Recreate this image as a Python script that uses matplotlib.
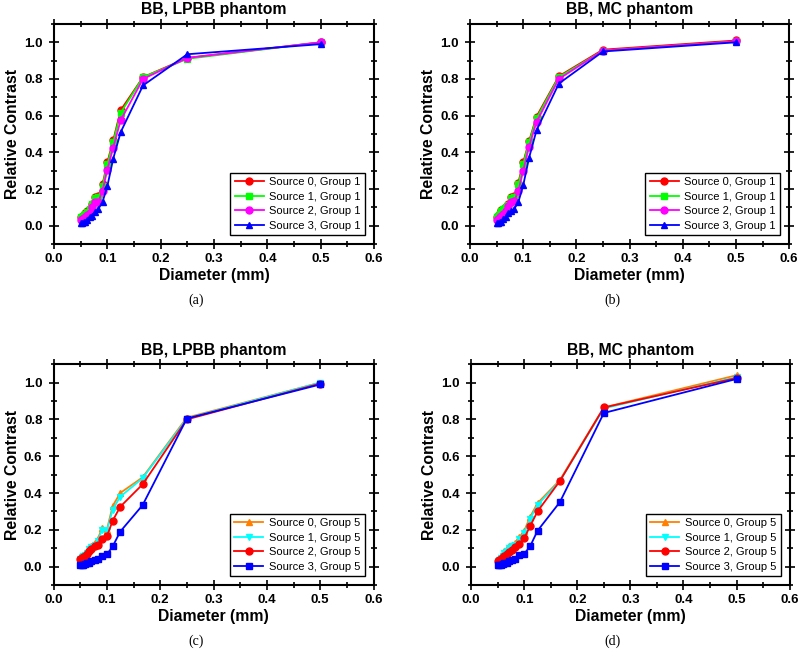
import matplotlib
matplotlib.use("Agg")
import matplotlib.pyplot as plt
from matplotlib.ticker import MultipleLocator

plt.rcParams['font.family'] = ['Liberation Sans', 'DejaVu Sans']

# bead diameters (mm)
diam = [0.5, 0.25, 0.167, 0.125, 0.111, 0.1, 0.091, 0.083, 0.077, 0.071,
        0.067, 0.0625, 0.059, 0.056, 0.053, 0.05]

# (a) BB, LPBB phantom, group 1
a_s0 = [1.0, 0.915, 0.81, 0.63, 0.465, 0.345, 0.225, 0.16, 0.155, 0.12, 0.09, 0.08, 0.07, 0.06, 0.05, 0.045]
a_s1 = [1.0, 0.91, 0.81, 0.615, 0.455, 0.335, 0.215, 0.155, 0.15, 0.12, 0.09, 0.075, 0.065, 0.06, 0.05, 0.045]
a_s2 = [1.0, 0.915, 0.80, 0.575, 0.425, 0.305, 0.19, 0.13, 0.13, 0.10, 0.07, 0.06, 0.05, 0.04, 0.035, 0.03]
a_s3 = [0.99, 0.935, 0.765, 0.51, 0.365, 0.215, 0.13, 0.09, 0.075, 0.055, 0.05, 0.03, 0.02, 0.02, 0.015, 0.015]

# (b) BB, MC phantom, group 1
b_s0 = [1.01, 0.96, 0.815, 0.595, 0.46, 0.345, 0.235, 0.16, 0.155, 0.12, 0.10, 0.09, 0.085, 0.07, 0.055, 0.05]
b_s1 = [1.005, 0.955, 0.81, 0.585, 0.455, 0.335, 0.225, 0.155, 0.15, 0.115, 0.10, 0.09, 0.08, 0.065, 0.055, 0.05]
b_s2 = [1.005, 0.955, 0.80, 0.565, 0.43, 0.30, 0.19, 0.135, 0.13, 0.105, 0.08, 0.065, 0.055, 0.045, 0.035, 0.03]
b_s3 = [1.0, 0.95, 0.775, 0.52, 0.37, 0.22, 0.13, 0.09, 0.08, 0.07, 0.05, 0.035, 0.02, 0.02, 0.015, 0.015]

# (c) BB, LPBB phantom, group 5
c_s0 = [1.0, 0.81, 0.485, 0.40, 0.33, 0.20, 0.21, 0.15, 0.13, 0.11, 0.10, 0.08, 0.07, 0.06, 0.05, 0.045]
c_s1 = [1.0, 0.805, 0.48, 0.38, 0.31, 0.195, 0.20, 0.14, 0.12, 0.105, 0.095, 0.075, 0.065, 0.055, 0.05, 0.04]
c_s2 = [0.995, 0.80, 0.447, 0.325, 0.25, 0.164, 0.15, 0.12, 0.11, 0.095, 0.085, 0.07, 0.055, 0.05, 0.045, 0.04]
c_s3 = [0.99, 0.805, 0.334, 0.19, 0.11, 0.066, 0.06, 0.04, 0.035, 0.03, 0.02, 0.02, 0.015, 0.01, 0.01, 0.01]

# (d) BB, MC phantom, group 5
d_s0 = [1.04, 0.865, 0.47, 0.345, 0.27, 0.195, 0.16, 0.13, 0.12, 0.11, 0.095, 0.085, 0.065, 0.05, 0.04, 0.035]
d_s1 = [1.03, 0.86, 0.465, 0.335, 0.26, 0.185, 0.15, 0.12, 0.11, 0.10, 0.085, 0.075, 0.06, 0.045, 0.035, 0.03]
d_s2 = [1.025, 0.865, 0.465, 0.30, 0.22, 0.155, 0.125, 0.105, 0.09, 0.08, 0.07, 0.06, 0.05, 0.04, 0.035, 0.03]
d_s3 = [1.02, 0.835, 0.35, 0.195, 0.11, 0.07, 0.065, 0.04, 0.035, 0.03, 0.02, 0.02, 0.015, 0.01, 0.01, 0.01]

style_g1 = [('#ff0000', 'o', 'Source 0, Group 1'),
            ('#00ff00', 's', 'Source 1, Group 1'),
            ('#ff00ff', 'o', 'Source 2, Group 1'),
            ('#0000ff', '^', 'Source 3, Group 1')]
style_g5 = [('#ff8000', '^', 'Source 0, Group 5'),
            ('#00ffff', 'v', 'Source 1, Group 5'),
            ('#ff0000', 'o', 'Source 2, Group 5'),
            ('#0000ff', 's', 'Source 3, Group 5')]

panels = [
    ([0.0675, 0.6286, 0.400, 0.3349], 'BB, LPBB phantom', [a_s0, a_s1, a_s2, a_s3], style_g1, '(a)'),
    ([0.5875, 0.6286, 0.399, 0.3349], 'BB, MC phantom', [b_s0, b_s1, b_s2, b_s3], style_g1, '(b)'),
    ([0.0669, 0.1096, 0.400, 0.3360], 'BB, LPBB phantom', [c_s0, c_s1, c_s2, c_s3], style_g5, '(c)'),
    ([0.5890, 0.1096, 0.398, 0.3360], 'BB, MC phantom', [d_s0, d_s1, d_s2, d_s3], style_g5, '(d)'),
]

fig = plt.figure(figsize=(8, 6.57), dpi=100)

for rect, title, series, styles, cap in panels:
    ax = fig.add_axes(rect)
    for ys, (col, mk, lab) in zip(series, styles):
        ax.plot(diam, ys, color=col, marker=mk, markersize=5, lw=1.3, label=lab)
    ax.set_xlim(0, 0.6)
    ax.set_ylim(-0.1, 1.1)
    ax.xaxis.set_major_locator(MultipleLocator(0.1))
    ax.xaxis.set_minor_locator(MultipleLocator(0.05))
    ax.yaxis.set_minor_locator(MultipleLocator(0.1))
    ax.set_yticks([0, 0.2, 0.4, 0.6, 0.8, 1.0])
    ax.tick_params(which='both', direction='inout', top=True, right=True, width=1.2)
    ax.tick_params(which='major', length=7, labelsize=9.5)
    ax.tick_params(axis='x', which='major', pad=3)
    ax.tick_params(axis='y', which='major', pad=4.5)
    ax.tick_params(which='minor', length=4)
    for lbl in ax.get_xticklabels() + ax.get_yticklabels():
        lbl.set_fontweight('bold')
    for sp in ax.spines.values():
        sp.set_linewidth(1.5)
    ax.set_title(title, fontsize=11.3, fontweight='bold', pad=7)
    ax.set_xlabel('Diameter (mm)', fontsize=11.3, fontweight='bold', labelpad=2)
    ax.set_ylabel('Relative Contrast', fontsize=11.3, fontweight='bold', labelpad=3)
    leg = ax.legend(loc='lower right', fontsize=8, fancybox=False, framealpha=1,
                    edgecolor='black', handlelength=2.6, labelspacing=0.4,
                    borderpad=0.4, borderaxespad=0.8, handletextpad=0.5)
    leg.get_frame().set_linewidth(1.0)
    cx = rect[0] + rect[2] * 0.445
    cy = rect[1] - 0.085
    fig.text(cx, cy, cap, ha='center', va='center', fontsize=10,
             family=['Liberation Serif', 'DejaVu Serif'])

fig.savefig('out.png', dpi=100)
